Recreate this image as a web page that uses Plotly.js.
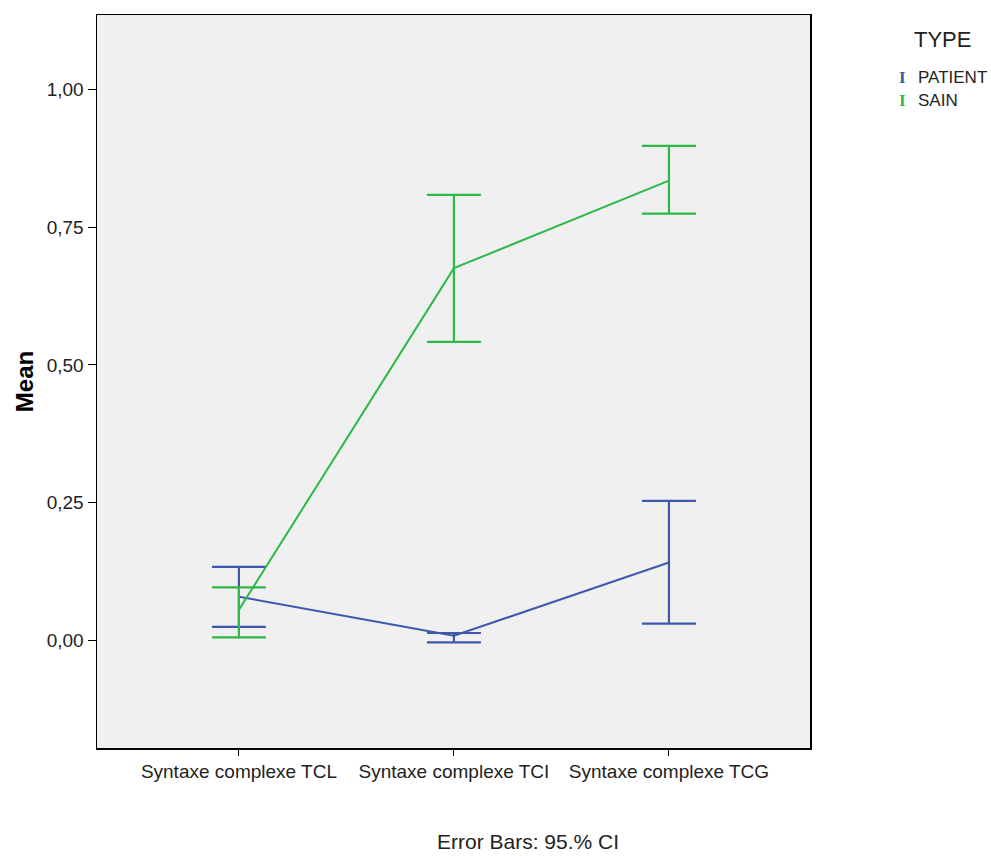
<!DOCTYPE html>
<html>
<head>
<meta charset="utf-8">
<script src="https://cdn.plot.ly/plotly-3.0.1.min.js"></script>
<style>html,body{margin:0;padding:0;background:#fff;}#chart{width:991px;height:856px;}</style>
</head>
<body>
<div id="chart"></div>
<script>
const categories = ["Syntaxe complexe TCL", "Syntaxe complexe TCI", "Syntaxe complexe TCG"];
const patientMean = [0.079, 0.008, 0.141];
const patientUpper = [0.133, 0.013, 0.253];
const patientLower = [0.024, -0.004, 0.030];
const sainMean = [0.055, 0.676, 0.835];
const sainUpper = [0.096, 0.809, 0.898];
const sainLower = [0.005, 0.542, 0.775];
const yTickVals = [0, 0.25, 0.5, 0.75, 1.0];
const yTickText = ["0,00", "0,25", "0,50", "0,75", "1,00"];
const groupNames = ["PATIENT", "SAIN"];
const legendTitle = "TYPE";
const footnote = "Error Bars: 95.% CI";

const blue = "#3e58ac";
const green = "#2eb848";
const colors = [blue, green];
const xIdx = categories.map((c, i) => i);

function series(name, mean, up, lo, color) {
  return {
    type: "scatter", mode: "lines", name: name, x: xIdx, y: mean,
    line: {color: color, width: 2}, showlegend: false, hoverinfo: "y",
    error_y: {
      type: "data", symmetric: false,
      array: up.map((u, i) => u - mean[i]),
      arrayminus: lo.map((l, i) => mean[i] - l),
      color: color, thickness: 2.2, width: 27
    }
  };
}

const data = [
  series(groupNames[0], patientMean, patientUpper, patientLower, blue),
  series(groupNames[1], sainMean, sainUpper, sainLower, green)
];

// legend drawn with annotations (paper coordinates)
const legendAnn = [{
  text: legendTitle, xref: "paper", yref: "paper", x: 1.1865, y: 0.966,
  xanchor: "center", yanchor: "middle", showarrow: false,
  font: {size: 22, color: "#222"}
}];
groupNames.forEach((g, i) => {
  const yy = 0.9154 - i * 0.0327;
  legendAnn.push({
    text: "<b>I</b>", xref: "paper", yref: "paper", x: 1.1304, y: yy,
    xanchor: "center", yanchor: "middle", showarrow: false,
    font: {size: 17, color: colors[i], family: "Liberation Serif, DejaVu Serif, serif"}
  });
  legendAnn.push({
    text: g, xref: "paper", yref: "paper", x: 1.1487, y: yy,
    xanchor: "left", yanchor: "middle", showarrow: false,
    font: {size: 17, color: "#222"}
  });
});

const layout = {
  width: 991, height: 856,
  margin: {l: 97, r: 181, t: 15, b: 108},
  paper_bgcolor: "#ffffff",
  plot_bgcolor: "#f0f0f0",
  font: {family: "Liberation Sans, Arial, sans-serif", color: "#222", size: 17},
  showlegend: false,
  xaxis: {
    range: [-0.66, 2.656], tickvals: xIdx, ticktext: categories,
    showgrid: false, zeroline: false, showline: true, linecolor: "#000", linewidth: 1.5,
    mirror: true, ticks: "outside", ticklen: 6, tickcolor: "#000",
    tickfont: {size: 19, color: "#222"}
  },
  yaxis: {
    range: [-0.196, 1.136], tickvals: yTickVals, ticktext: yTickText,
    showgrid: false, zeroline: false, showline: true, linecolor: "#000", linewidth: 1.5,
    mirror: true, ticks: "outside", ticklen: 8, tickcolor: "#000",
    tickfont: {size: 19, color: "#222"},
    title: {text: "<b>Mean</b>", font: {size: 24, color: "#000"}, standoff: 6}
  },
  annotations: legendAnn.concat([{
    text: footnote, xref: "paper", yref: "paper",
    x: 0.6045, y: -0.1269, xanchor: "center", yanchor: "middle", showarrow: false,
    font: {size: 21, color: "#222"}
  }])
};

Plotly.newPlot("chart", data, layout, {displayModeBar: false, staticPlot: true});
</script>
</body>
</html>
